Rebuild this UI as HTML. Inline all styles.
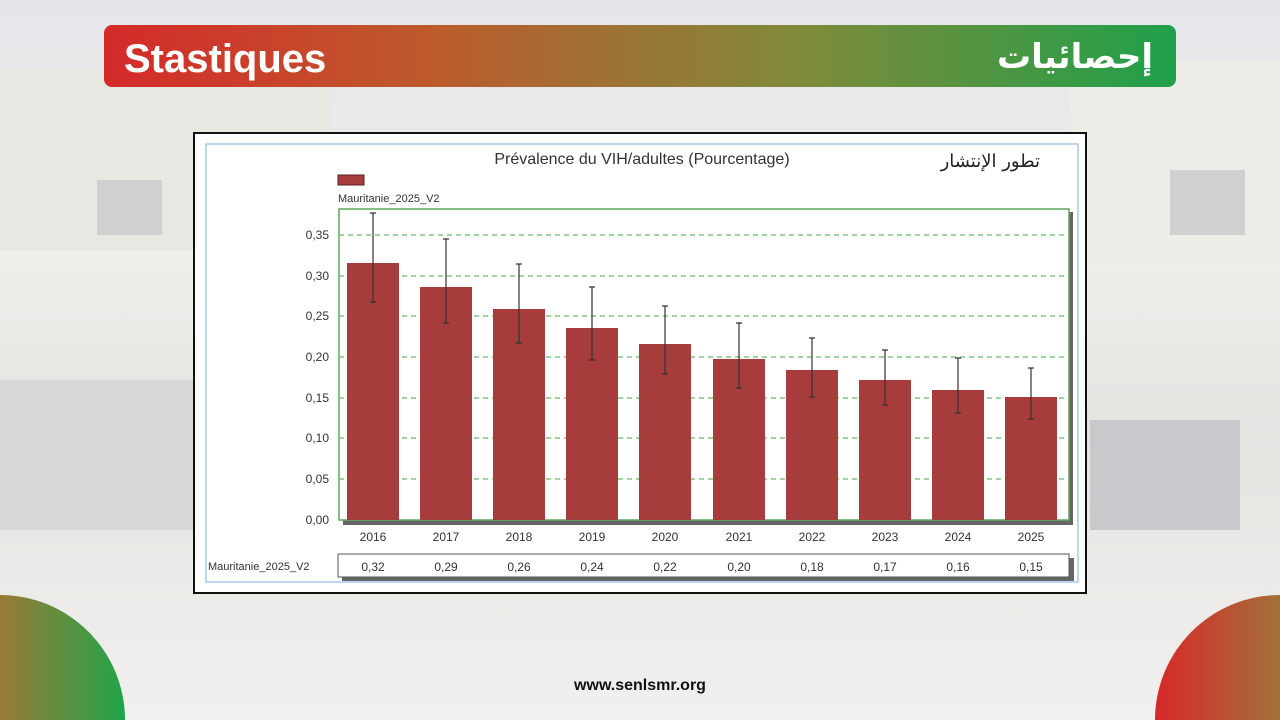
<!DOCTYPE html>
<html style="overflow:hidden"><head><meta charset="utf-8"><style>
html,body{margin:0;width:1280px;height:720px;overflow:hidden}
body{background:#ececea;font-family:"Liberation Sans","Noto Sans CJK SC",sans-serif;position:relative}
svg{display:block}
</style></head><body>
<svg width="1280" height="720" xmlns="http://www.w3.org/2000/svg" style="position:absolute;left:0;top:0">
<defs>
<linearGradient id="bg" x1="0" y1="0" x2="0" y2="1">
<stop offset="0" stop-color="#e4e6ea"/><stop offset="0.35" stop-color="#efeeeb"/><stop offset="0.6" stop-color="#e6e4e1"/><stop offset="1" stop-color="#f1f0ee"/></linearGradient>
<linearGradient id="hdr" x1="0" y1="0" x2="1" y2="0">
<stop offset="0" stop-color="#d42a2a"/><stop offset="0.3" stop-color="#bd5a2c"/><stop offset="0.65" stop-color="#7f8a3a"/><stop offset="1" stop-color="#1fa04a"/></linearGradient>
<linearGradient id="cl" x1="0" y1="0" x2="1" y2="0">
<stop offset="0" stop-color="#9a7a36"/><stop offset="1" stop-color="#20a44a"/></linearGradient>
<linearGradient id="cr" x1="0" y1="0" x2="1" y2="0">
<stop offset="0" stop-color="#d8282a"/><stop offset="1" stop-color="#a3703a"/></linearGradient>
</defs>
<rect width="1280" height="720" fill="url(#bg)"/>
<rect x="0" y="70" width="330" height="180" fill="#e9e7e2"/>
<rect x="1070" y="60" width="210" height="200" fill="#eeece7"/>
<rect x="97" y="180" width="65" height="55" fill="#cfd0d0"/>
<rect x="1170" y="170" width="75" height="65" fill="#cfd0d0"/>
<rect x="0" y="380" width="200" height="150" fill="#d8d8d8"/>
<rect x="1090" y="420" width="150" height="110" fill="#c7c9cc"/>
<path d="M0 595A125 125 0 0 1 125 720L0 720Z" fill="url(#cl)"/>
<path d="M1280 595A125 125 0 0 0 1155 720L1280 720Z" fill="url(#cr)"/>
<rect x="104" y="25" width="1072" height="62" rx="8" fill="url(#hdr)"/>
<text x="124" y="72" font-size="40" font-weight="bold" fill="#fff">Stastiques</text>
<text x="1153" y="68" font-size="34" font-weight="bold" fill="#fff" text-anchor="end" font-family="DejaVu Sans,sans-serif">إحصائيات</text>
<text x="640" y="690" font-size="16" font-weight="bold" fill="#111" text-anchor="middle">www.senlsmr.org</text>

<rect x="194" y="133" width="892" height="460" fill="#fff" stroke="#111" stroke-width="2"/>
<rect x="206" y="144" width="872" height="438" fill="#fff" stroke="#a8c8e8" stroke-width="1.5"/>
<text x="642" y="164" font-size="16" fill="#333" text-anchor="middle">Prévalence du VIH/adultes (Pourcentage)</text>
<text x="1040" y="167" font-size="18" fill="#222" text-anchor="end" font-family="DejaVu Serif,serif">تطور الإنتشار</text>
<rect x="338" y="175" width="26" height="10" fill="#a63c3c" stroke="#5a2020"/>
<text x="338" y="202" font-size="11" fill="#333">Mauritanie_2025_V2</text>
<rect x="1068" y="212" width="5" height="312" fill="#666"/>
<rect x="343" y="520" width="730" height="5" fill="#666"/>
<rect x="339" y="209" width="730" height="311" fill="#fff" stroke="#5aa85a" stroke-width="1.5"/>
<g stroke="#6ab86a" stroke-width="1.2" stroke-dasharray="5,4">
<line x1="339" y1="235" x2="1068" y2="235"/><line x1="339" y1="276" x2="1068" y2="276"/><line x1="339" y1="316" x2="1068" y2="316"/><line x1="339" y1="357" x2="1068" y2="357"/><line x1="339" y1="398" x2="1068" y2="398"/><line x1="339" y1="438" x2="1068" y2="438"/><line x1="339" y1="479" x2="1068" y2="479"/></g>
<g font-size="12" fill="#333" text-anchor="end">
<text x="329" y="239">0,35</text><text x="329" y="280">0,30</text><text x="329" y="320">0,25</text><text x="329" y="361">0,20</text><text x="329" y="402">0,15</text><text x="329" y="442">0,10</text><text x="329" y="483">0,05</text><text x="329" y="524">0,00</text></g>
<g fill="#a63c3c">
<rect x="347" y="263" width="52" height="257"/><rect x="420" y="287" width="52" height="233"/><rect x="493" y="309" width="52" height="211"/><rect x="566" y="328" width="52" height="192"/><rect x="639" y="344" width="52" height="176"/><rect x="713" y="359" width="52" height="161"/><rect x="786" y="370" width="52" height="150"/><rect x="859" y="380" width="52" height="140"/><rect x="932" y="390" width="52" height="130"/><rect x="1005" y="397" width="52" height="123"/></g>
<g stroke="#333" stroke-width="1.2">
<path d="M373 213V302M370 213h6M370 302h6"/><path d="M446 239V323M443 239h6M443 323h6"/><path d="M519 264V343M516 264h6M516 343h6"/><path d="M592 287V360M589 287h6M589 360h6"/><path d="M665 306V374M662 306h6M662 374h6"/><path d="M739 323V388M736 323h6M736 388h6"/><path d="M812 338V397M809 338h6M809 397h6"/><path d="M885 350V405M882 350h6M882 405h6"/><path d="M958 358V413M955 358h6M955 413h6"/><path d="M1031 368V419M1028 368h6M1028 419h6"/></g>
<g font-size="12" fill="#333" text-anchor="middle">
<text x="373" y="541">2016</text><text x="446" y="541">2017</text><text x="519" y="541">2018</text><text x="592" y="541">2019</text><text x="665" y="541">2020</text><text x="739" y="541">2021</text><text x="812" y="541">2022</text><text x="885" y="541">2023</text><text x="958" y="541">2024</text><text x="1031" y="541">2025</text></g>
<rect x="342" y="558" width="732" height="23" fill="#666"/>
<rect x="338" y="554" width="731" height="23" fill="#fff" stroke="#555"/>
<text x="208" y="570" font-size="11" fill="#333">Mauritanie_2025_V2</text>
<g font-size="12" fill="#333" text-anchor="middle">
<text x="373" y="571">0,32</text><text x="446" y="571">0,29</text><text x="519" y="571">0,26</text><text x="592" y="571">0,24</text><text x="665" y="571">0,22</text><text x="739" y="571">0,20</text><text x="812" y="571">0,18</text><text x="885" y="571">0,17</text><text x="958" y="571">0,16</text><text x="1031" y="571">0,15</text></g>
</svg>
</body></html>
